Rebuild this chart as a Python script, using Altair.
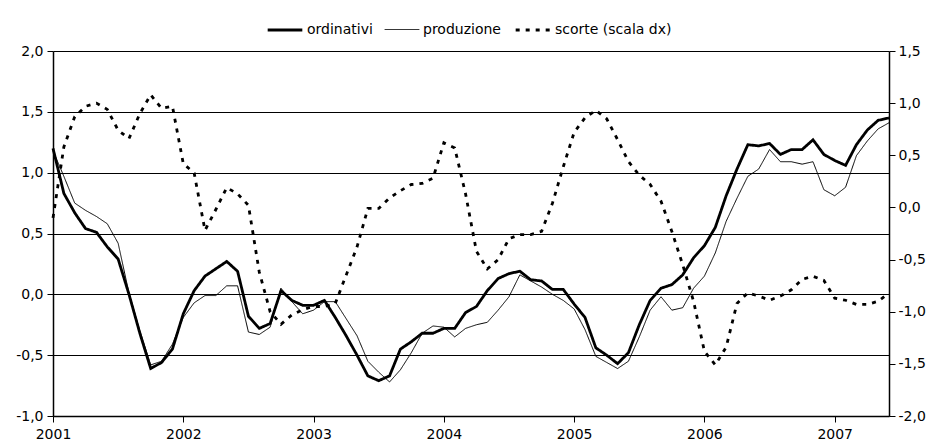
import altair as alt
import pandas as pd

series_names = ["ordinativi", "produzione", "scorte (scala dx)"]

ordinativi = [
    1.20, 0.83, 0.67, 0.54, 0.51, 0.39, 0.29, 0.00, -0.32, -0.61, -0.56, -0.45,
    -0.16, 0.03, 0.15, 0.21, 0.27, 0.19, -0.18, -0.28, -0.24, 0.03, -0.05, -0.09,
    -0.09, -0.05, -0.19, -0.34, -0.50, -0.67, -0.71, -0.67, -0.45, -0.39, -0.32, -0.32,
    -0.28, -0.28, -0.15, -0.10, 0.03, 0.13, 0.17, 0.19, 0.12, 0.11, 0.04, 0.04,
    -0.08, -0.19, -0.44, -0.50, -0.57, -0.48, -0.25, -0.05, 0.05, 0.08, 0.16, 0.30,
    0.40, 0.55, 0.81, 1.03, 1.23, 1.22, 1.24, 1.15, 1.19, 1.19, 1.27, 1.15,
    1.10, 1.06, 1.23, 1.35, 1.43, 1.45,
]

produzione = [
    1.18, 0.97, 0.75, 0.69, 0.64, 0.58, 0.42, 0.01, -0.30, -0.58, -0.55, -0.41,
    -0.19, -0.07, -0.01, -0.01, 0.07, 0.07, -0.31, -0.33, -0.27, 0.05, -0.06, -0.16,
    -0.13, -0.06, -0.06, -0.20, -0.34, -0.55, -0.64, -0.72, -0.62, -0.48, -0.32, -0.26,
    -0.27, -0.35, -0.28, -0.25, -0.23, -0.13, -0.02, 0.16, 0.11, 0.06, 0.00, -0.05,
    -0.12, -0.29, -0.51, -0.56, -0.61, -0.55, -0.35, -0.13, -0.02, -0.13, -0.11, 0.05,
    0.15, 0.34, 0.60, 0.79, 0.97, 1.03, 1.19, 1.09, 1.09, 1.07, 1.09, 0.86,
    0.81, 0.88, 1.14, 1.26, 1.36, 1.41,
]

scorte = [
    -0.10, 0.58, 0.87, 0.97, 1.00, 0.94, 0.74, 0.66, 0.90, 1.08, 0.95, 0.97,
    0.42, 0.33, -0.22, -0.02, 0.19, 0.13, 0.02, -0.62, -1.00, -1.12, -1.03, -0.98,
    -0.95, -0.95, -0.92, -0.65, -0.38, -0.01, -0.01, 0.09, 0.16, 0.22, 0.23, 0.28,
    0.62, 0.57, 0.13, -0.42, -0.59, -0.50, -0.30, -0.26, -0.26, -0.23, 0.04, 0.39,
    0.72, 0.86, 0.93, 0.85, 0.65, 0.44, 0.31, 0.22, 0.06, -0.23, -0.55, -0.90,
    -1.38, -1.51, -1.34, -0.92, -0.82, -0.85, -0.89, -0.85, -0.79, -0.69, -0.66, -0.70,
    -0.87, -0.89, -0.93, -0.93, -0.90, -0.82,
]

year_ticks = [0, 12, 24, 36, 48, 60, 72]
left_ticks = [-1.0, -0.5, 0.0, 0.5, 1.0, 1.5, 2.0]
right_ticks = [-2.0, -1.5, -1.0, -0.5, 0.0, 0.5, 1.0, 1.5]

rows = []
for name, vals in zip(series_names, [ordinativi, produzione, scorte]):
    for i, v in enumerate(vals):
        rows.append({"i": i, "val": v, "serie": name})
df = pd.DataFrame(rows)

num_expr = "replace(replace(format(datum.value, '.1f'), '\u2212', '-'), '.', ',')"
FONT = "DejaVu Sans"

x_enc = alt.X(
    "i:Q",
    scale=alt.Scale(domain=[0, 77], nice=False, zero=False),
    axis=alt.Axis(
        values=year_ticks,
        labelExpr="'' + (2001 + datum.value / 12)",
        title=None,
        grid=False,
        tickSize=6,
        labelPadding=5,
        labelFlush=False,
    ),
)

legend = alt.Legend(
    title=None,
    orient="none",
    legendX=213,
    legendY=-40,
    direction="horizontal",
    symbolType="stroke",
    symbolSize=1200,
    labelFontSize=14,
    labelFont=FONT,
    labelColor="black",
    columnPadding=9,
    labelOffset=3,
    padding=0,
)

common = dict(
    color=alt.Color(
        "serie:N",
        scale=alt.Scale(domain=series_names, range=["black", "black", "black"]),
        legend=legend,
    ),
    strokeWidth=alt.StrokeWidth(
        "serie:N",
        scale=alt.Scale(type="ordinal", domain=series_names, range=[2.8, 1.0, 2.8]),
        legend=legend,
    ),
    strokeDash=alt.StrokeDash(
        "serie:N",
        scale=alt.Scale(domain=series_names, range=[[1, 0], [1, 0], [4, 6]]),
        legend=legend,
    ),
    detail="serie:N",
)

left = alt.Chart(df).transform_filter(
    alt.FieldOneOfPredicate(field="serie", oneOf=["ordinativi", "produzione"])
).mark_line(strokeCap="butt", strokeJoin="miter").encode(
    x=x_enc,
    y=alt.Y(
        "val:Q",
        scale=alt.Scale(domain=[-1, 2], nice=False, zero=False),
        axis=alt.Axis(
            values=left_ticks,
            labelExpr=num_expr,
            title=None,
            grid=True,
            gridColor="black",
            gridWidth=1,
            tickSize=6,
            labelPadding=4,
            orient="left",
        ),
    ),
    **common,
)

right = alt.Chart(df).transform_filter(
    alt.FieldEqualPredicate(field="serie", equal="scorte (scala dx)")
).mark_line(strokeCap="butt", strokeJoin="miter").encode(
    x=x_enc,
    y=alt.Y(
        "val:Q",
        scale=alt.Scale(domain=[-2, 1.5], nice=False, zero=False),
        axis=alt.Axis(
            values=right_ticks,
            labelExpr=num_expr,
            title=None,
            grid=False,
            tickSize=6,
            labelPadding=3,
            orient="right",
        ),
    ),
    **common,
)

chart = (
    alt.layer(left, right)
    .resolve_scale(y="independent")
    .properties(
        width=836,
        height=365,
        autosize=alt.AutoSizeParams(type="none"),
        padding={"left": 45, "top": 43, "right": 37, "bottom": 30},
        background="white",
    )
    .configure_view(strokeWidth=0)
    .configure_axis(
        labelFont=FONT,
        labelFontSize=14,
        labelColor="black",
        domainColor="black",
        tickColor="black",
        domainWidth=1.5,
    )
)

chart.save("out.html", embed_options={"renderer": "svg", "actions": False})
